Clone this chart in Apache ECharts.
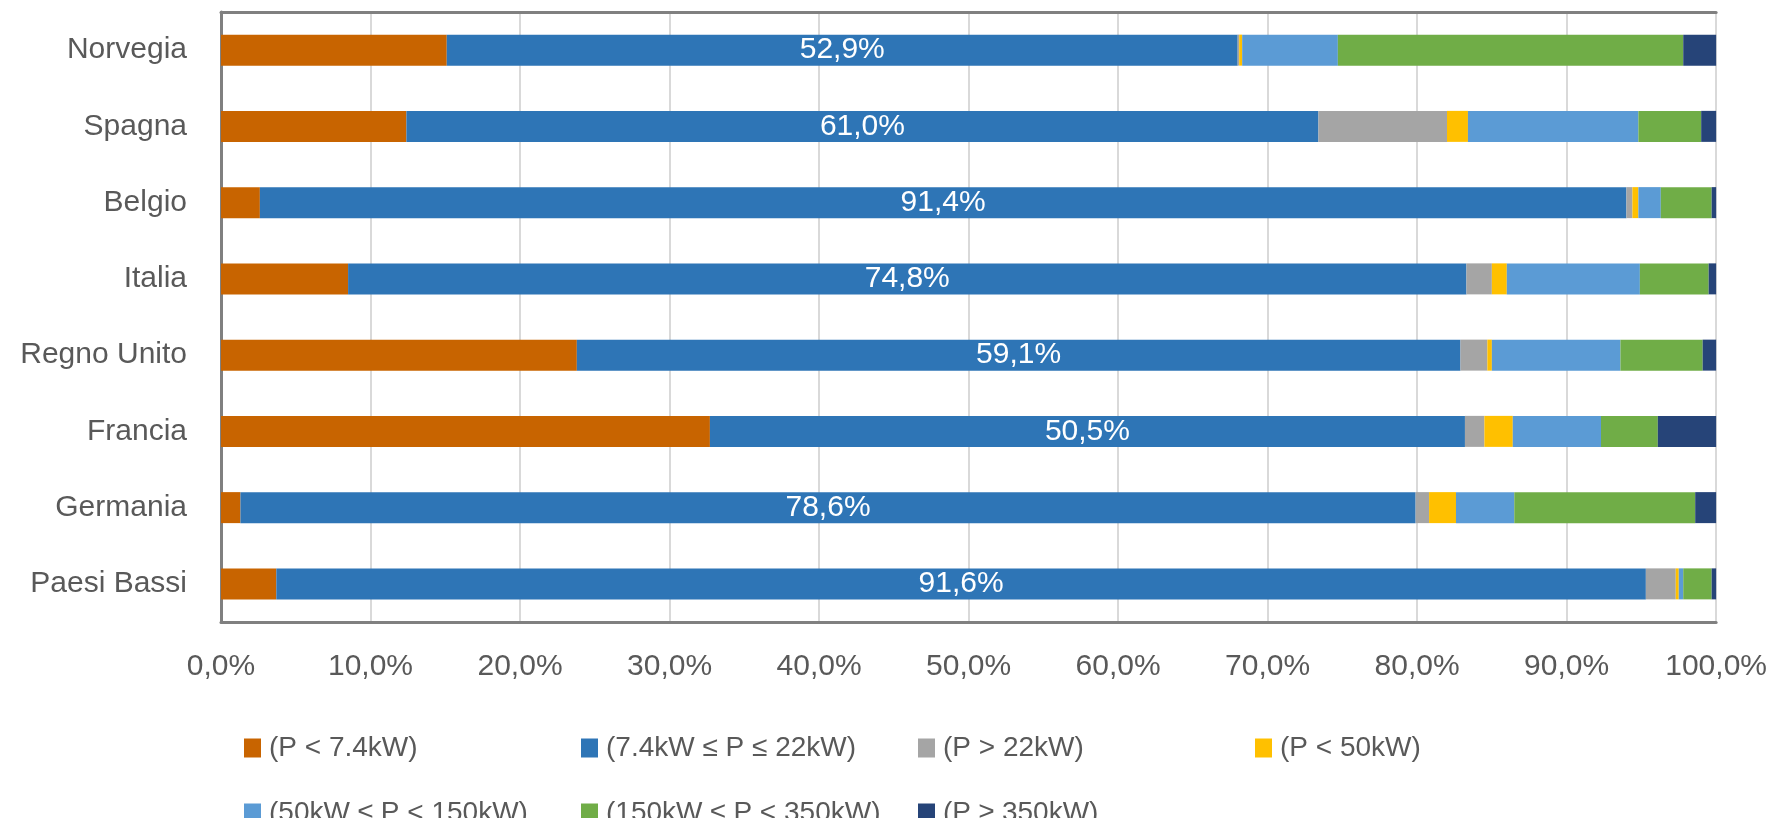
<!DOCTYPE html>
<html>
<head>
<meta charset="utf-8">
<script src="https://cdn.jsdelivr.net/npm/echarts@6/dist/echarts.min.js"></script>
<style>
  html, body { margin: 0; padding: 0; background: #ffffff; }
  #chart { width: 1770px; height: 818px; }
</style>
</head>
<body>
<div id="chart"></div>
<script>
// Countries, top to bottom
const countries = ['Norvegia', 'Spagna', 'Belgio', 'Italia', 'Regno Unito', 'Francia', 'Germania', 'Paesi Bassi'];

// Power classes (legend names)
const classNames = [
  '(P < 7.4kW)',
  '(7.4kW \u2264 P \u2264 22kW)',
  '(P > 22kW)',
  '(P < 50kW)',
  '(50kW \u2264 P < 150kW)',
  '(150kW \u2264 P < 350kW)',
  '(P \u2265 350kW)'
];

// Share of charging points per class, in %, one value per country
const pLt7 =      [15.1, 12.4,  2.6,  8.5, 23.8, 32.7,  1.3,  3.7];
const p7to22 =    [52.9, 61.0, 91.4, 74.8, 59.1, 50.5, 78.6, 91.6];
const pGt22 =     [ 0.1,  8.6,  0.4,  1.7,  1.8,  1.3,  0.9,  2.0];
const pLt50 =     [ 0.2,  1.4,  0.4,  1.0,  0.3,  1.9,  1.8,  0.2];
const p50to150 =  [ 6.4, 11.4,  1.5,  8.9,  8.6,  5.9,  3.9,  0.3];
const p150to350 = [23.1,  4.2,  3.4,  4.6,  5.5,  3.8, 12.1,  1.9];
const pGe350 =    [ 2.2,  1.0,  0.3,  0.5,  0.9,  3.9,  1.4,  0.3];

// X axis ticks (percent)
const xTicks = { min: 0, max: 100, step: 10 };

const seriesValues = [pLt7, p7to22, pGt22, pLt50, p50to150, p150to350, pGe350];
const colors = ['#C86400', '#2E75B6', '#A5A5A5', '#FFC000', '#5B9BD5', '#70AD47', '#264478'];

const FONT = '"Liberation Sans", Arial, sans-serif';
const TEXT = '#595959';
const fmtPct = v => v.toFixed(1).replace('.', ',') + '%';

const series = seriesValues.map((vals, i) => ({
  name: classNames[i],
  type: 'bar',
  stack: 'total',
  barWidth: 31,
  data: vals,
  itemStyle: { color: colors[i] },
  label: i === 1 ? {
    show: true,
    position: 'inside',
    color: '#ffffff',
    fontFamily: FONT,
    fontSize: 30,
    formatter: p => fmtPct(p.value)
  } : { show: false },
  emphasis: { disabled: true }
}));

// Legend: 4 fixed-width columns, wrapping onto a second row
const LEGEND_COLS = 4;
const legends = classNames.map((name, i) => ({
  left: 239 + (i % LEGEND_COLS) * 337,
  top: i < LEGEND_COLS ? 729 : 794,
  data: [name],
  itemWidth: 17,
  itemHeight: 19,
  icon: 'rect',
  textStyle: { color: TEXT, fontFamily: FONT, fontSize: 28, padding: [0, 0, 0, 3] },
  selectedMode: false
}));

const chart = echarts.init(document.getElementById('chart'));
chart.setOption({
  animation: false,
  backgroundColor: '#ffffff',
  grid: { left: 221, right: 52, top: 12, bottom: 196, containLabel: false },
  xAxis: [
    {
      type: 'value',
      min: xTicks.min,
      max: xTicks.max,
      interval: xTicks.step,
      position: 'bottom',
      axisLine: { show: true, lineStyle: { color: '#808080', width: 3 } },
      axisTick: { show: false },
      splitLine: { show: true, lineStyle: { color: '#D9D9D9', width: 2 } },
      axisLabel: { color: TEXT, fontFamily: FONT, fontSize: 30, margin: 30, formatter: v => fmtPct(v) }
    },
    {
      type: 'value',
      min: xTicks.min,
      max: xTicks.max,
      position: 'top',
      axisLine: { show: true, lineStyle: { color: '#808080', width: 3 } },
      axisTick: { show: false },
      splitLine: { show: false },
      axisLabel: { show: false }
    }
  ],
  yAxis: [
    {
      type: 'category',
      data: countries,
      inverse: true,
      axisLine: { show: false },
      axisTick: { show: false },
      axisLabel: { color: TEXT, fontFamily: FONT, fontSize: 30, margin: 34 }
    },
    {
      type: 'category',
      data: countries,
      inverse: true,
      position: 'right',
      axisLine: { show: true, lineStyle: { color: '#808080', width: 3 } },
      axisTick: { show: false },
      axisLabel: { show: false }
    }
  ],
  legend: legends,
  series: series
});
</script>
</body>
</html>
